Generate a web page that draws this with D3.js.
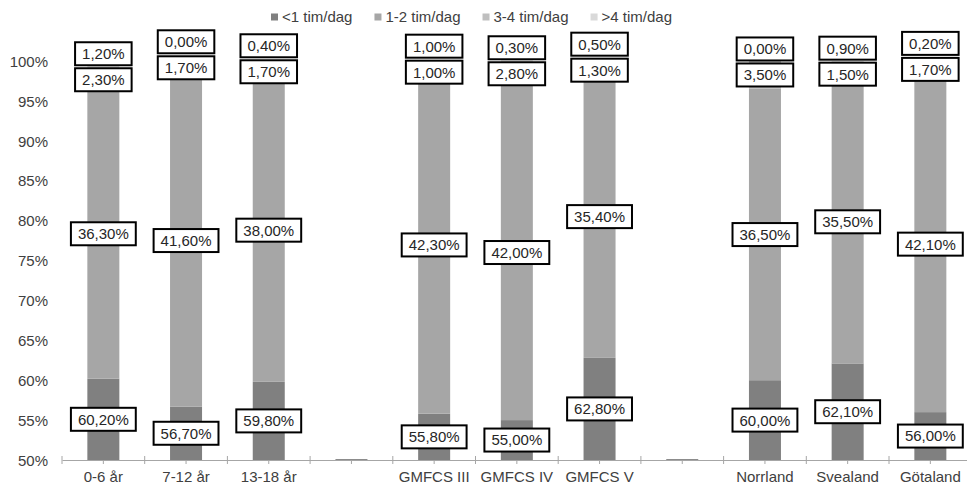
<!DOCTYPE html>
<html>
<head>
<meta charset="utf-8">
<script src="https://cdn.jsdelivr.net/npm/d3@7"></script>
<style>
  html, body { margin: 0; padding: 0; background: #fff; }
  svg { display: block; font-family: Arial, "Liberation Sans", sans-serif; }
</style>
</head>
<body>
<svg id="chart" width="967" height="489"></svg>
<script>
// Categories (empty strings are spacer slots between the groups)
const categories = ["0-6 år", "7-12 år", "13-18 år", "", "GMFCS III", "GMFCS IV", "GMFCS V", "", "Norrland", "Svealand", "Götaland"];

// Share of respondents per time bucket (percent)
const under1h = [60.2, 56.7, 59.8, null, 55.8, 55.0, 62.8, null, 60.0, 62.1, 56.0];
const h1to2   = [36.3, 41.6, 38.0, null, 42.3, 42.0, 35.4, null, 36.5, 35.5, 42.1];
const h3to4   = [2.3, 1.7, 1.7, null, 1.0, 2.8, 1.3, null, 3.5, 1.5, 1.7];
const over4h  = [1.2, 0.0, 0.4, null, 1.0, 0.3, 0.5, null, 0.0, 0.9, 0.2];

const seriesNames = ["<1 tim/dag", "1-2 tim/dag", "3-4 tim/dag", ">4 tim/dag"];
const seriesColors = ["#808080", "#a6a6a6", "#bfbfbf", "#d9d9d9"];
const yTicks = [50, 55, 60, 65, 70, 75, 80, 85, 90, 95, 100];

const rows = categories.map((c, i) => ({
  idx: i, name: c,
  s0: under1h[i], s1: h1to2[i], s2: h3to4[i], s3: over4h[i]
}));

const svg = d3.select("#chart");
const plotLeft = 62, plotBottom = 460, plotTop = 61;
const step = 82.7;

const x = d3.scaleBand()
  .domain(rows.map(r => r.idx))
  .range([plotLeft, plotLeft + step * categories.length])
  .paddingInner(0.613)
  .paddingOuter(0.613 / 2);

const y = d3.scaleLinear().domain([50, 100]).range([plotBottom, plotTop]);

const sv = d3.formatLocale({ decimal: ",", thousands: " ", grouping: [3], currency: ["", " kr"] });
const pct = v => sv.format(".2f")(v) + "%";

// Stacked layout
const keys = ["s0", "s1", "s2", "s3"];
const stacked = d3.stack().keys(keys)(rows.filter(r => r.s0 != null));

// Bars (clipped at the 50 % baseline)
const barG = svg.append("g");
stacked.forEach((layer, k) => {
  barG.selectAll(null)
    .data(layer)
    .join("rect")
    .attr("x", d => x(d.data.idx))
    .attr("width", x.bandwidth())
    .attr("y", d => y(Math.min(d[1], 100.5)))
    .attr("height", d => Math.max(0, y(Math.max(d[0], 50)) - y(Math.min(d[1], 100.5))))
    .attr("fill", seriesColors[k]);
});

// Spacer slots: thin stub on the baseline
barG.selectAll(null)
  .data(rows.filter(r => r.s0 == null))
  .join("rect")
  .attr("x", d => x(d.idx))
  .attr("width", x.bandwidth())
  .attr("y", plotBottom - 1)
  .attr("height", 2)
  .attr("fill", "#8c8c8c");

// X axis
const xAxis = d3.axisBottom(x)
  .tickFormat(i => categories[i])
  .tickSizeInner(4)
  .tickSizeOuter(0)
  .tickPadding(7);
const gx = svg.append("g").attr("transform", `translate(0,${plotBottom})`).call(xAxis);
gx.select(".domain").attr("stroke", "#a6a6a6").attr("stroke-width", 1);
gx.selectAll(".tick line").attr("stroke", "#a6a6a6");
gx.selectAll(".tick text").attr("font-size", 15).attr("fill", "#404040")
  .attr("font-family", "Arial, 'Liberation Sans', sans-serif");
// Category boundary ticks (crossing the axis)
const bounds = d3.range(categories.length + 1).map(i => plotLeft + i * x.step());
gx.selectAll(".bound")
  .data(bounds)
  .join("line")
  .attr("class", "bound")
  .attr("x1", d => d).attr("x2", d => d)
  .attr("y1", -4).attr("y2", 4)
  .attr("stroke", "#a6a6a6");

// Y axis
const yAxis = d3.axisLeft(y).tickValues(yTicks).tickSize(0).tickPadding(14).tickFormat(d => d + "%");
const gy = svg.append("g").attr("transform", `translate(${plotLeft},0)`).call(yAxis);
gy.select(".domain").remove();
gy.selectAll(".tick text").attr("font-size", 15).attr("fill", "#404040")
  .attr("font-family", "Arial, 'Liberation Sans', sans-serif")
  .attr("dy", "0.35em");

// Data labels: centred on the visible part of each segment, stacked labels pushed apart
const boxH = 23, gap = 3;
const labelG = svg.append("g");
rows.filter(r => r.s0 != null).forEach(r => {
  const centers = stacked.map(layer => {
    const d = layer.find(e => e.data.idx === r.idx);
    const lo = Math.max(d[0], 50), hi = d[1];
    return y((lo + hi) / 2);
  });
  for (let k = 1; k < centers.length; k++) {
    if (centers[k] + boxH / 2 + gap > centers[k - 1] - boxH / 2) {
      centers[k] = centers[k - 1] - boxH - gap;
    }
  }
  keys.forEach((key, k) => {
    const g = labelG.append("g")
      .attr("transform", `translate(${x(r.idx) + x.bandwidth() / 2},${centers[k]})`);
    const rect = g.append("rect").attr("fill", "#fff").attr("stroke", "#000").attr("stroke-width", 2);
    const t = g.append("text")
      .attr("text-anchor", "middle")
      .attr("dy", "0.36em")
      .attr("font-size", 15)
      .attr("fill", "#262626")
      .text(pct(r[key]));
    const w = t.node().getComputedTextLength() + 14;
    rect.attr("x", -w / 2).attr("y", -boxH / 2).attr("width", w).attr("height", boxH);
  });
});

// Legend
const legend = svg.append("g").attr("transform", "translate(271,17)");
let lx = 0;
seriesNames.forEach((name, k) => {
  const item = legend.append("g").attr("transform", `translate(${lx},0)`);
  item.append("rect").attr("x", 0).attr("y", -3.5).attr("width", 7).attr("height", 7).attr("fill", seriesColors[k]);
  const t = item.append("text").attr("x", 11).attr("dy", "0.35em")
    .attr("font-size", 15).attr("fill", "#404040").text(name);
  lx += 11 + t.node().getComputedTextLength() + 22;
});
</script>
</body>
</html>
